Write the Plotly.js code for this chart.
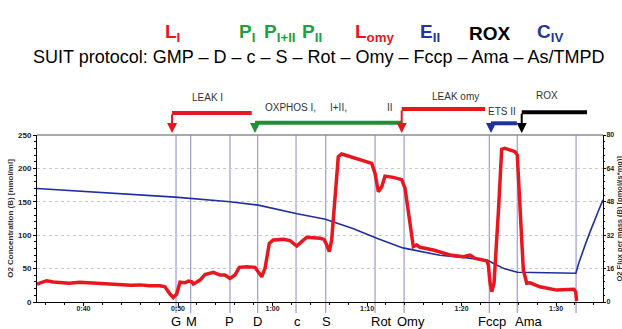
<!DOCTYPE html>
<html><head><meta charset="utf-8">
<script src="https://cdn.plot.ly/plotly-3.0.1.min.js"></script>
<style>html,body{margin:0;padding:0;background:#fff}#chart{width:622px;height:329px}</style>
</head><body><div id="chart"></div>
<script>
// ---- data (time in minutes) ----
const o2Time = [35.08, 40.0, 43.9, 49.7, 55.5, 58.5, 62.6, 65.6, 68.5, 71.1, 73.8, 77.7, 80.6, 82.8, 83.5, 84.5, 85.9, 89.0, 92.1, 92.4, 92.8, 93.2, 93.6, 94.0, 94.5, 94.97];
const o2Conc = [170, 166, 162.5, 157, 150, 145, 132, 124, 110, 95, 81, 70, 66, 62, 57, 50, 44.5, 43.5, 43, 58, 75, 90, 105, 120, 137, 153];

const fluxTime = [35.08, 35.6, 36.1, 36.8, 37.5, 38.5, 39.6, 40.5, 41.75, 42.8, 43.86, 45.0, 46.0, 47.0, 48.1, 48.62, 49.15, 49.5, 49.86, 50.21, 50.74, 51.1, 51.45, 51.62, 52.0, 52.33, 52.86, 53.74, 54.44, 54.97, 55.5, 56.03, 56.49, 57.27, 58.15, 58.6, 58.86, 59.21, 59.66, 60.08, 61.14, 61.85, 62.56, 63.09, 63.62, 65.03, 65.45, 65.74, 66.01, 66.26, 66.61, 66.96, 67.32, 68.2, 69.61, 70.5, 70.85, 71.2, 71.56, 71.9, 72.78, 73.67, 74.02, 74.3, 74.55, 74.9, 75.26, 75.61, 77.02, 78.78, 80.19, 80.9, 81.43, 82.67, 82.84, 83.02, 83.2, 83.44, 83.89, 84.25, 84.6, 85.66, 85.9, 86.19, 86.54, 86.9, 87.25, 88.3, 90.07, 91.9, 92.08, 92.18];
const fluxVal = [8.6, 9.2, 10.2, 9.6, 9.4, 9.0, 9.5, 9.2, 8.9, 8.5, 8.4, 8.0, 8.2, 7.8, 7.8, 7.3, 3.8, 2.2, 3.8, 9.5, 9.2, 10.0, 9.7, 8.6, 9.6, 10.5, 13.2, 14.2, 12.9, 12.9, 11.3, 12.9, 16.6, 16.9, 16.6, 14.0, 12.1, 16.1, 28.1, 29.7, 30.0, 29.4, 26.8, 28.9, 31.0, 30.5, 30.0, 27.3, 24.1, 29.7, 48.9, 69.6, 70.9, 69.6, 67.7, 66.4, 61.6, 52.8, 55.2, 60.3, 59.7, 58.6, 54.5, 45.6, 35.0, 26.5, 27.3, 26.2, 24.9, 22.5, 21.7, 22.5, 20.9, 19.8, 17.7, 9.0, 4.9, 9.0, 42.5, 73.1, 73.6, 72.0, 70.4, 45.6, 15.3, 9.0, 9.2, 7.3, 5.7, 6.1, 4.9, 0.5];

const eventTimes = [49.79, 51.34, 55.50, 58.43, 62.49, 65.63, 70.85, 73.92, 82.94, 85.90, 92.12];
const eventLabels = ['G', 'M', 'P', 'D', 'c', 'S', 'Rot', 'Omy', 'Fccp', 'Ama', ''];

const xTickVals = [40, 50, 60, 70, 80, 90];
const xTickText = ['0:40', '0:50', '1:00', '1:10', '1:20', '1:30'];

const phaseNames = ['LEAK I', 'OXPHOS', 'LEAK omy', 'ETS II', 'ROX'];
const phaseStart = [49.37, 58.15, 73.67, 83.12, 86.37];
const phaseEnd = [57.8, 73.67, 82.49, 85.86, 93.28];

const headerLabels = ['L<sub>I</sub>', 'P<sub>I</sub>', 'P<sub>I+II</sub>', 'P<sub>II</sub>', 'L<sub>omy</sub>', 'E<sub>II</sub>', 'ROX', 'C<sub>IV</sub>'];
const protocolText = 'SUIT protocol: GMP – D – c – S – Rot – Omy – Fccp – Ama – As/TMPD';

// ---- layout helpers ----
const W = 622, H = 329, ML = 37, MR = 19, MT = 135, MB = 27;
const plotH = H - MT - MB, plotW = W - ML - MR;
const py = p => (H - MB - p) / plotH;      // pixel y -> paper y
const px = p => (p - ML) / plotW;          // pixel x -> paper x

const RED = '#e8161e', GREEN = '#1f8f35', BLUE = '#1f2f9f', BLACK = '#000000';
const phaseColors = [RED, GREEN, RED, BLUE, BLACK];
const phaseBarY = [113, 122.7, 109, 123.3, 112.3];
const phaseTextPos = [[207, 97, 'center'], [263, 107, 'left'], [455, 96, 'center'], [502, 111, 'center'], [547, 95, 'center']];
const headerColors = [RED, '#22a040', '#22a040', '#22a040', RED, '#26349a', BLACK, '#26349a'];
const headerX = [172, 247, 280, 312, 375, 430, 490, 550];
const eventShift = [0, 1, 0, 0, 1, 1, 6, 7, 3, 12, 0];

const traces = [
  {x: o2Time, y: o2Conc, type: 'scatter', mode: 'lines', line: {color: BLUE, width: 1.6}, yaxis: 'y', hoverinfo: 'skip'},
  {x: fluxTime, y: fluxVal, type: 'scatter', mode: 'lines', line: {color: RED, width: 3.5}, yaxis: 'y2', hoverinfo: 'skip'}
];

const shapes = [];
const annotations = [];

// event lines
eventTimes.forEach((t, i) => {
  shapes.push({type: 'line', xref: 'x', yref: 'paper', x0: t, x1: t, y0: py(313), y1: 1, line: {color: '#9c9cd2', width: 1.2}, layer: 'below'});
  if (eventLabels[i]) annotations.push({xref: 'x', yref: 'paper', x: t, y: py(321), text: eventLabels[i], showarrow: false, xanchor: 'center', yanchor: 'middle', xshift: eventShift[i], font: {family: 'Arial, Liberation Sans', size: 13, color: '#000'}});
});
// top border
shapes.push({type: 'line', xref: 'paper', yref: 'paper', x0: 0, x1: 1, y0: 1, y1: 1, line: {color: '#8c8c8c', width: 1.5}});

// phase bars and arrows
phaseNames.forEach((n, i) => {
  shapes.push({type: 'line', xref: 'x', yref: 'paper', x0: phaseStart[i], x1: phaseEnd[i], y0: py(phaseBarY[i]), y1: py(phaseBarY[i]), line: {color: phaseColors[i], width: 4}});
  annotations.push({xref: 'x', yref: 'paper', x: phaseStart[i], y: py(133), ax: 0, ay: phaseBarY[i] - 133, axref: 'pixel', ayref: 'pixel', showarrow: true, arrowhead: 2, arrowsize: 1, arrowwidth: 2, arrowcolor: phaseColors[i], text: ''});
});
const phaseTexts = ['LEAK I', 'OXPHOS I,', 'LEAK omy', 'ETS II', 'ROX'];
phaseTexts.forEach((s, i) => {
  const p = phaseTextPos[i];
  annotations.push({xref: 'paper', yref: 'paper', x: px(p[0]), y: py(p[1]), text: s, showarrow: false, xanchor: p[2], yanchor: 'middle', font: {family: 'Arial, Liberation Sans', size: 10, color: '#333'}});
});
annotations.push({xref: 'paper', yref: 'paper', x: px(328), y: py(107), text: 'I+II,', showarrow: false, xanchor: 'left', yanchor: 'middle', font: {family: 'Arial, Liberation Sans', size: 10, color: '#333'}});
annotations.push({xref: 'paper', yref: 'paper', x: px(385), y: py(107), text: 'II', showarrow: false, xanchor: 'left', yanchor: 'middle', font: {family: 'Arial, Liberation Sans', size: 10, color: '#333'}});

// header
headerLabels.forEach((s, i) => {
  annotations.push({xref: 'paper', yref: 'paper', x: px(headerX[i]), y: py(33), text: s, showarrow: false, xanchor: 'center', yanchor: 'middle', font: {family: 'Arial, Liberation Sans', size: 19, color: headerColors[i], weight: 'bold'}});
});
annotations.push({xref: 'paper', yref: 'paper', x: px(319), y: py(57), text: protocolText, showarrow: false, xanchor: 'center', yanchor: 'middle', font: {family: 'Arial, Liberation Sans', size: 18, color: '#000'}});

// right axis title (as rotated annotation)
annotations.push({xref: 'paper', yref: 'paper', x: px(619), y: 0.5, text: 'O2 Flux per mass (B) [pmol/(s*mg)]', textangle: -90, showarrow: false, xanchor: 'center', yanchor: 'middle', font: {family: 'Arial, Liberation Sans', size: 7.5, color: '#333', weight: 'bold'}});

const tickFont = {family: 'Arial, Liberation Sans', size: 8, color: '#222', weight: 'bold'};

const layout = {
  width: W, height: H, autosize: false,
  margin: {l: ML, r: MR, t: MT, b: MB, pad: 0},
  paper_bgcolor: '#fff', plot_bgcolor: '#fff',
  showlegend: false,
  xaxis: {range: [35.08, 94.97], tickvals: xTickVals, ticktext: xTickText, ticks: 'outside', ticklen: 3, tickcolor: '#000', showline: true, linecolor: '#000', linewidth: 1, showgrid: false, zeroline: false, tickfont: {family: 'Arial, Liberation Sans', size: 7, color: '#222', weight: 'bold'}, ticklabelstandoff: -3,
    minor: {tickvals: [36,38,42,44,46,48,52,54,56,58,62,64,66,68,72,74,76,78,82,84,86,88,92,94], ticks: 'outside', ticklen: 2, tickcolor: '#000'}},
  yaxis: {range: [0, 250], tickvals: [0, 50, 100, 150, 200, 250], ticks: 'outside', ticklen: 3, tickcolor: '#000', showline: true, linecolor: '#000', linewidth: 1, showgrid: true, gridcolor: '#c8c8c8', griddash: 'dot', zeroline: false, tickfont: tickFont,
    minor: {dtick: 10, ticks: 'outside', ticklen: 2, tickcolor: '#000', showgrid: false},
    title: {text: 'O2 Concentration (B) [nmol/ml]', font: {family: 'Arial, Liberation Sans', size: 8, color: '#333', weight: 'bold'}, standoff: 3}},
  yaxis2: {range: [0, 80], overlaying: 'y', side: 'right', tickvals: [0, 16, 32, 48, 64, 80], ticks: 'outside', ticklen: 2, tickcolor: '#000', showline: true, linecolor: '#000', linewidth: 1, showgrid: false, zeroline: false, tickfont: {family: 'Arial, Liberation Sans', size: 7, color: '#222', weight: 'bold'}, ticklabelstandoff: -1,
    minor: {dtick: 3.2, ticks: 'outside', ticklen: 1, tickcolor: '#000'}},
  shapes: shapes,
  annotations: annotations
};

Plotly.newPlot('chart', traces, layout, {displayModeBar: false, staticPlot: true});
</script>
</body></html>
